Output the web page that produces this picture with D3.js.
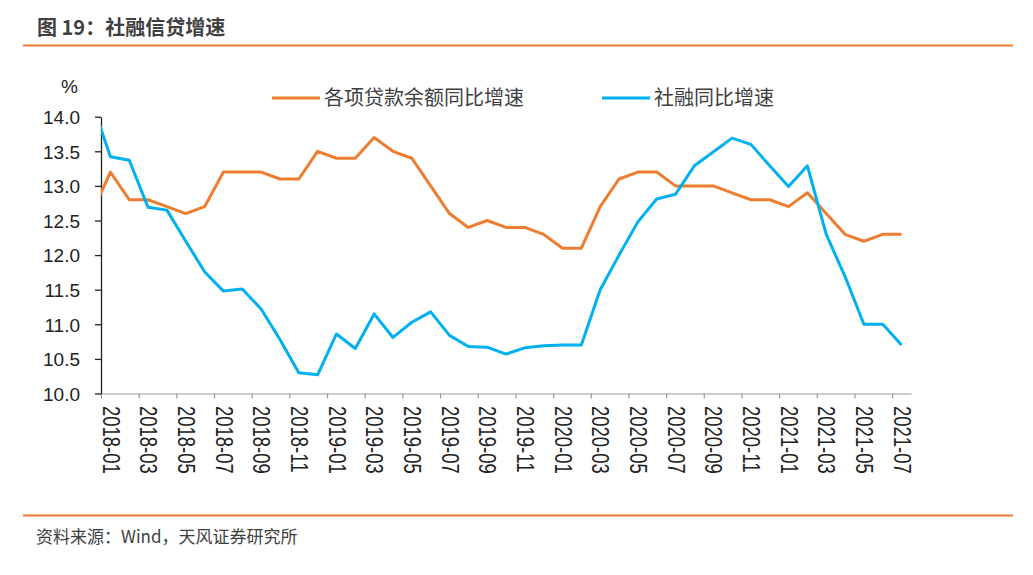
<!DOCTYPE html>
<html>
<head>
<meta charset="utf-8">
<script src="https://cdn.jsdelivr.net/npm/d3@7"></script>
<style>
  html, body { margin: 0; padding: 0; background: #fff; }
  svg { display: block; }
</style>
</head>
<body>
<svg id="chart" width="1033" height="575"></svg>
<script>
// ---- data ----
const months = ["2017-12",
  "2018-01","2018-02","2018-03","2018-04","2018-05","2018-06","2018-07","2018-08","2018-09","2018-10","2018-11","2018-12",
  "2019-01","2019-02","2019-03","2019-04","2019-05","2019-06","2019-07","2019-08","2019-09","2019-10","2019-11","2019-12",
  "2020-01","2020-02","2020-03","2020-04","2020-05","2020-06","2020-07","2020-08","2020-09","2020-10","2020-11","2020-12",
  "2021-01","2021-02","2021-03","2021-04","2021-05","2021-06","2021-07"];
const loanGrowth = [12.6,
  13.2,12.8,12.8,12.7,12.6,12.7,13.2,13.2,13.2,13.1,13.1,13.5,
  13.4,13.4,13.7,13.5,13.4,13.0,12.6,12.4,12.5,12.4,12.4,12.3,
  12.1,12.1,12.7,13.1,13.2,13.2,13.0,13.0,13.0,12.9,12.8,12.8,
  12.7,12.9,12.6,12.3,12.2,12.3,12.3];
const tsfGrowth = [14.22,
  13.42,13.37,12.69,12.65,12.2,11.76,11.48,11.51,11.22,10.78,10.30,10.27,
  10.86,10.65,11.15,10.81,11.03,11.18,10.84,10.68,10.67,10.57,10.66,10.69,
  10.7,10.7,11.5,12.0,12.48,12.81,12.88,13.29,13.49,13.69,13.60,13.29,
  12.99,13.29,12.30,11.69,11.0,11.0,10.7];
const xTickLabels = ["2018-01","2018-03","2018-05","2018-07","2018-09","2018-11",
  "2019-01","2019-03","2019-05","2019-07","2019-09","2019-11",
  "2020-01","2020-03","2020-05","2020-07","2020-09","2020-11",
  "2021-01","2021-03","2021-05","2021-07"];
const yTicks = [10.0,10.5,11.0,11.5,12.0,12.5,13.0,13.5,14.0];
const seriesNames = ["各项贷款余额同比增速", "社融同比增速"];
const seriesColors = ["#ED7D31", "#00B0F0"];
const titleText = "图 19：社融信贷增速";
const sourceText = "资料来源：Wind，天风证券研究所";

// ---- layout ----
const svg = d3.select("#chart");
const cjk = "'Noto Sans CJK SC', 'Noto Sans', sans-serif";
const latin = "'Liberation Sans', Arial, sans-serif";

// month offset from 2018-01 (start of axis)
const monthIndex = m => { const [y, mo] = m.split("-").map(Number); return (y - 2018) * 12 + (mo - 1); };

const x = d3.scaleLinear().domain([0, 43]).range([101, 911]);
const y = d3.scaleLinear().domain([10, 14]).range([393.5, 116.7]);

// header
svg.append("text").attr("x", 37).attr("y", 35)
  .attr("font-family", cjk).attr("font-weight", "bold").attr("font-size", 20)
  .attr("fill", "#404040").text(titleText);
svg.append("line").attr("x1", 23).attr("x2", 1013).attr("y1", 45.5).attr("y2", 45.5)
  .attr("stroke", "#ED7D31").attr("stroke-width", 2);
svg.append("line").attr("x1", 23).attr("x2", 1013).attr("y1", 515.5).attr("y2", 515.5)
  .attr("stroke", "#ED7D31").attr("stroke-width", 2);
svg.append("text").attr("x", 36).attr("y", 543)
  .attr("font-family", cjk).attr("font-size", 17)
  .attr("fill", "#404040").text(sourceText);

// unit
svg.append("text").attr("x", 61).attr("y", 93)
  .attr("font-family", latin).attr("font-size", 19).attr("fill", "#222").text("%");

// x axis
const xAxis = d3.axisBottom(x)
  .tickValues(xTickLabels.map(monthIndex))
  .tickSize(5).tickSizeOuter(0)
  .tickFormat("");
const gx = svg.append("g").attr("transform", `translate(0,${y(10)})`).call(xAxis);
gx.select(".domain").attr("stroke", "#999").attr("stroke-width", 1.2);
gx.selectAll(".tick line").attr("stroke", "#999").attr("stroke-width", 1.2);
svg.append("g").selectAll("text").data(xTickLabels).join("text")
  .attr("transform", d => `translate(${x(monthIndex(d)) + 1.5},${406}) rotate(90) scale(1,1.3)`)
  .attr("font-family", latin).attr("font-size", 18.5).attr("fill", "#222")
  .attr("text-anchor", "start")
  .text(d => d);

// y axis
const yAxis = d3.axisLeft(y).tickValues(yTicks).tickSize(6).tickSizeOuter(0)
  .tickFormat(d3.format(".1f"));
const gy = svg.append("g").attr("transform", `translate(${x(0)},0)`).call(yAxis);
gy.select(".domain").attr("stroke", "#222").attr("stroke-width", 1.3);
gy.selectAll(".tick line").attr("stroke", "#222").attr("stroke-width", 1.3);
gy.selectAll(".tick text").attr("x", -21).attr("dy", "0.36em")
  .attr("font-family", latin).attr("font-size", 19).attr("fill", "#222");

// clip for the lines (horizontal extent of the axis)
svg.append("clipPath").attr("id", "plotclip").append("rect")
  .attr("x", x(0)).attr("y", 0).attr("width", x(43) - x(0)).attr("height", 575);

const line = d3.line()
  .x(d => x(monthIndex(d.m) + 0.5))
  .y(d => y(d.v));

const series = [loanGrowth, tsfGrowth];
const plot = svg.append("g").attr("clip-path", "url(#plotclip)");
series.forEach((vals, k) => {
  plot.append("path")
    .datum(months.map((m, i) => ({ m, v: vals[i] })))
    .attr("fill", "none")
    .attr("stroke", seriesColors[k])
    .attr("stroke-width", 3)
    .attr("stroke-linejoin", "round")
    .attr("d", line);
});

// legend
const legendX = [272, 602];
seriesNames.forEach((name, k) => {
  const g = svg.append("g").attr("transform", `translate(${legendX[k]},98)`);
  g.append("line").attr("x1", 0).attr("x2", 48).attr("y1", 0).attr("y2", 0)
    .attr("stroke", seriesColors[k]).attr("stroke-width", 3);
  g.append("text").attr("x", 52).attr("y", 0).attr("dy", "0.35em")
    .attr("font-family", cjk).attr("font-size", 20).attr("fill", "#404040")
    .text(name);
});
</script>
</body>
</html>
